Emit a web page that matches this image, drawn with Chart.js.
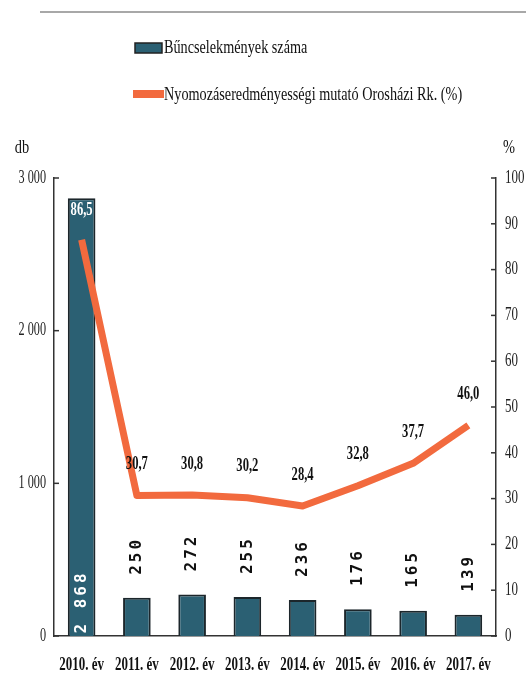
<!DOCTYPE html>
<html>
<head>
<meta charset="utf-8">
<script src="https://cdn.jsdelivr.net/npm/chart.js@4.4.1/dist/chart.umd.min.js"></script>
<style>
  body { margin: 0; background: #fff; }
  canvas { display: block; }
</style>
</head>
<body>
<canvas id="chart" width="526" height="677"></canvas>
<script>
// Data.
var years = ['2010. év', '2011. év', '2012. év', '2013. év', '2014. év', '2015. év', '2016. év', '2017. év'];
var crimeCounts = [2868, 250, 272, 255, 236, 176, 165, 139];
var clearanceRate = [86.5, 30.7, 30.8, 30.2, 28.4, 32.8, 37.7, 46.0];
var countLabel = 'Bűncselekmények száma';
var rateLabel = 'Nyomozáseredményességi mutató Orosházi Rk. (%)';

var BAR_COLOR = '#2b6073';
var LINE_COLOR = '#f26a3e';
var SERIF = '"Liberation Serif", "DejaVu Serif", serif';

function fmtCount(v) {
  return String(v).replace(/\B(?=(\d{3})+(?!\d))/g, ' ');
}
function fmtRate(v) {
  return v.toFixed(1).replace('.', ',');
}

// Draw text squeezed horizontally, to get the condensed look of the scan.
function drawCondensed(ctx, text, x, y, sx, align) {
  ctx.save();
  ctx.translate(x, y);
  ctx.scale(sx, 1);
  ctx.textAlign = align || 'center';
  ctx.fillText(text, 0, 0);
  ctx.restore();
}

var decorPlugin = {
  id: 'decor',
  afterDraw: function(chart) {
    var ctx = chart.ctx;
    var area = chart.chartArea;
    var sy = chart.scales.y, sy1 = chart.scales.y1, sx = chart.scales.x;
    ctx.save();
    ctx.textBaseline = 'middle';

    // rule left over from the page above
    ctx.strokeStyle = '#a8a8a8';
    ctx.lineWidth = 2;
    ctx.beginPath(); ctx.moveTo(40, 12); ctx.lineTo(526, 12); ctx.stroke();

    // legend
    var ds = chart.data.datasets;
    ctx.fillStyle = BAR_COLOR;
    ctx.fillRect(135, 43, 27, 10);
    ctx.strokeStyle = '#222';
    ctx.lineWidth = 1.5;
    ctx.strokeRect(135, 43, 27, 10);
    ctx.fillStyle = LINE_COLOR;
    ctx.fillRect(133, 90, 31, 8);
    ctx.fillStyle = '#111';
    ctx.font = '18px ' + SERIF;
    drawCondensed(ctx, ds[0].label, 164, 48, 0.79, 'left');
    drawCondensed(ctx, ds[1].label, 164, 95, 0.79, 'left');

    // axis unit labels
    drawCondensed(ctx, 'db', 22, 148, 0.8, 'center');
    drawCondensed(ctx, '%', 509, 148, 0.8, 'center');

    // left axis: inward ticks and labels
    ctx.strokeStyle = '#333';
    ctx.lineWidth = 1.5;
    ctx.fillStyle = '#222';
    sy.ticks.forEach(function(t) {
      var py = sy.getPixelForValue(t.value);
      ctx.beginPath(); ctx.moveTo(area.left, py); ctx.lineTo(area.left + 5, py); ctx.stroke();
      drawCondensed(ctx, fmtCount(t.value), 46, py, 0.68, 'right');
    });

    // right axis: inward ticks and labels
    sy1.ticks.forEach(function(t) {
      var py = sy1.getPixelForValue(t.value);
      ctx.beginPath(); ctx.moveTo(area.right, py); ctx.lineTo(area.right - 5, py); ctx.stroke();
      drawCondensed(ctx, String(t.value), 505, py, 0.72, 'left');
    });

    // category labels
    ctx.font = 'bold 18px ' + SERIF;
    ctx.fillStyle = '#111';
    sx.ticks.forEach(function(t, i) {
      drawCondensed(ctx, chart.data.labels[i], sx.getPixelForTick(i), 665, 0.72, 'center');
    });

    // bar value labels, rotated
    var barMeta = chart.getDatasetMeta(0);
    ctx.font = 'bold 16px "DejaVu Sans Mono", "Liberation Mono", monospace';
    ctx.letterSpacing = '3px';
    barMeta.data.forEach(function(bar, i) {
      var text = fmtCount(ds[0].data[i]);
      var inside = bar.base - bar.y > 120;
      ctx.save();
      ctx.translate(bar.x, inside ? bar.base - 34 : bar.y - 42);
      ctx.rotate(-Math.PI / 2);
      ctx.textAlign = 'center';
      ctx.fillStyle = inside ? '#ffffff' : '#111';
      ctx.fillText(text, 0, 0);
      ctx.restore();
    });
    ctx.letterSpacing = '0px';

    // line value labels
    var lineMeta = chart.getDatasetMeta(1);
    ctx.font = 'bold 18px ' + SERIF;
    lineMeta.data.forEach(function(pt, i) {
      var bar = barMeta.data[i];
      var text = fmtRate(ds[1].data[i]);
      if (pt.y > bar.y + 10) {
        ctx.fillStyle = '#ffffff';
        drawCondensed(ctx, text, pt.x, bar.y + 12, 0.7, 'center');
      } else {
        ctx.fillStyle = '#111';
        drawCondensed(ctx, text, pt.x, pt.y - 31, 0.7, 'center');
      }
    });

    ctx.restore();
  }
};

new Chart(document.getElementById('chart'), {
  type: 'bar',
  data: {
    labels: years,
    datasets: [
      {
        type: 'bar',
        label: countLabel,
        data: crimeCounts,
        yAxisID: 'y',
        backgroundColor: BAR_COLOR,
        borderColor: '#1c262b',
        borderWidth: 2,
        categoryPercentage: 1,
        barPercentage: 0.5,
        order: 2
      },
      {
        type: 'line',
        label: rateLabel,
        data: clearanceRate,
        yAxisID: 'y1',
        borderColor: LINE_COLOR,
        borderWidth: 7,
        borderJoinStyle: 'round',
        pointRadius: 0,
        tension: 0,
        fill: false,
        order: 1
      }
    ]
  },
  options: {
    responsive: false,
    animation: false,
    layout: {padding: {top: 178, left: 0, right: 0, bottom: 0}},
    plugins: {
      legend: {display: false},
      tooltip: {enabled: false}
    },
    scales: {
      x: {
        grid: {display: false},
        border: {display: true, color: '#333', width: 1.5},
        ticks: {display: false},
        afterFit: function(scale) { scale.height = 41; }
      },
      y: {
        position: 'left',
        min: 0,
        max: 3000,
        ticks: {display: false, stepSize: 1000},
        grid: {display: false},
        border: {display: true, color: '#333', width: 1.5, dash: [6, 2]},
        afterFit: function(scale) { scale.width = 54; }
      },
      y1: {
        position: 'right',
        min: 0,
        max: 100,
        ticks: {display: false, stepSize: 10},
        grid: {display: false},
        border: {display: true, color: '#333', width: 1.5, dash: [6, 2]},
        afterFit: function(scale) { scale.width = 30; }
      }
    }
  },
  plugins: [decorPlugin]
});
</script>
</body>
</html>
